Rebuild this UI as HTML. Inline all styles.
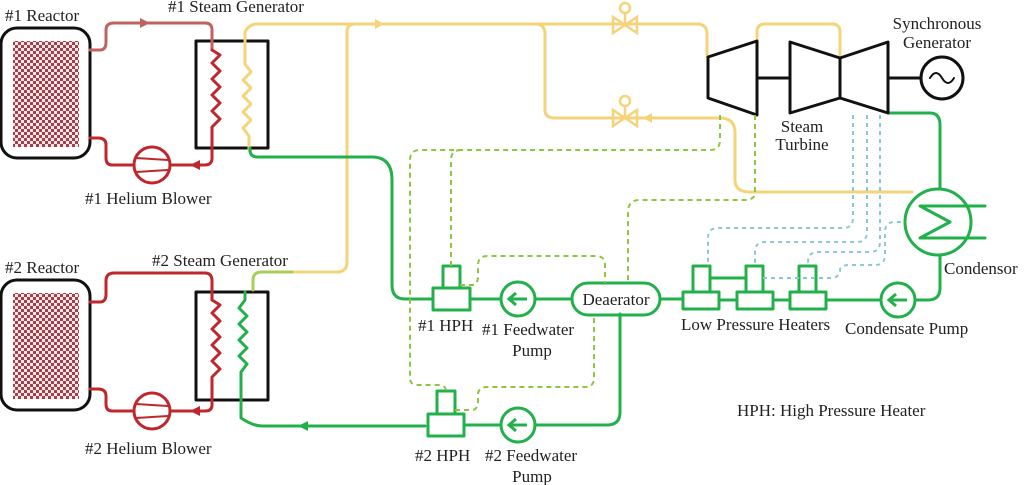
<!DOCTYPE html>
<html><head><meta charset="utf-8"><style>
html,body{margin:0;padding:0;background:#fff;}
svg{display:block;}
text{font-family:"Liberation Serif",serif;font-size:17px;fill:#222;}
</style></head><body>
<svg width="1024" height="485" viewBox="0 0 1024 485" xmlns="http://www.w3.org/2000/svg">
<defs>
<pattern id="chk" width="6" height="6" patternUnits="userSpaceOnUse">
<rect width="6" height="6" fill="#f3e6e6"/><rect width="3" height="3" fill="#a0404a"/><rect x="3" y="3" width="3" height="3" fill="#a0404a"/>
</pattern>
</defs>
<g fill="none" stroke-width="3" stroke-linejoin="round" stroke-linecap="round">
<rect x="1" y="28" width="89" height="130" rx="16" stroke="#111"/>
<rect x="13" y="41" width="66" height="106" fill="url(#chk)" stroke="none"/>
<rect x="1" y="280" width="89" height="130" rx="16" stroke="#111"/>
<rect x="13" y="293" width="66" height="106" fill="url(#chk)" stroke="none"/>
<rect x="196" y="41" width="72" height="107" stroke="#111"/>
<rect x="196" y="292" width="72" height="108" stroke="#111"/>
<path d="M90 50 H100 Q106 50 106 42 V30 Q106 23 114 23 H205 Q212 23 212 30 V50" stroke="#c0635e"/>
<path d="M212 50 l8 5 l-8 8 l8 8 l-8 8 l8 8 l-8 8 l8 8 l-8 8 l8 8 l-8 8 V158 Q212 165 205 165 H170" stroke="#c0272d"/>
<path d="M134 165 H112 Q106 165 106 158 V145 Q106 138 98 138 H90" stroke="#c0272d"/>
<circle cx="152" cy="165" r="18" stroke="#c0272d"/>
<path d="M136 158 L168 160 M136 172 L168 170" stroke="#c0272d" stroke-width="2"/>
<path d="M90 302 H100 Q106 302 106 294 V281 Q106 273 114 273 H205 Q212 273 212 281 V300" stroke="#c0272d"/>
<path d="M212 300 l8 5 l-8 8 l8 8 l-8 8 l8 8 l-8 8 l8 8 l-8 8 l8 8 l-8 8 V405 Q212 411 205 411 H170" stroke="#c0272d"/>
<path d="M134 411 H112 Q106 411 106 404 V396 Q106 389 98 389 H90" stroke="#c0272d"/>
<circle cx="152" cy="411" r="18" stroke="#c0272d"/>
<path d="M136 404 L168 406 M136 418 L168 416" stroke="#c0272d" stroke-width="2"/>
<path d="M249 150 V136 l-6 -8 l8 -8 l-8 -8 l8 -8 l-8 -8 l8 -8 l-8 -8 l8 -8 l-6 -8 V32 Q249 24 257 24 H697 Q707 24 707 34 V56" stroke="#f5d37a"/>
<path d="M347 32 Q347 24 355 24 M347 32 V262 Q347 272 337 272 H292" stroke="#f5d37a"/>
<path d="M292 272 H262 Q253 272 253 280 V290" stroke="#a6cf5a"/>
<path d="M535 24 Q545 24 545 34 V110 Q545 118 555 118 H720 Q735 118 735 133 V180 Q735 192 750 192 H912" stroke="#f5d37a"/>
<path d="M757 41 V32 Q757 24 765 24 H832 Q840 24 840 32 V58" stroke="#f5d37a"/>
<path d="M245 292 V300 l-6 8 l8 8 l-8 8 l8 8 l-8 8 l8 8 l-8 8 l8 8 l-6 8 V418 Q253 426 262 426 H425" stroke="#22b04b"/>
<path d="M250 148 V150 Q250 157 258 157 H372 Q392 157 392 180 V285 Q392 299 405 299 H433" stroke="#22b04b"/>
<path d="M470 299 H501 M535 299 H572 M660 299 H683" stroke="#22b04b"/>
<path d="M620 314 V412 Q620 425 607 425 H535 M501 425 H464" stroke="#22b04b"/>
<rect x="433" y="288" width="37" height="22" stroke="#22b04b"/>
<rect x="443" y="266" width="17" height="22" stroke="#22b04b"/>
<rect x="428" y="414" width="36" height="22" stroke="#22b04b"/>
<rect x="437" y="391" width="18" height="23" stroke="#22b04b"/>
<circle cx="518" cy="299" r="17" stroke="#22b04b"/>
<circle cx="518" cy="425" r="17" stroke="#22b04b"/>
<rect x="572" y="283" width="88" height="32" rx="16" stroke="#22b04b"/>
<rect x="683" y="292" width="36" height="17" stroke="#22b04b"/>
<rect x="693" y="266" width="17" height="26" stroke="#22b04b"/>
<rect x="737" y="292" width="36" height="17" stroke="#22b04b"/>
<rect x="746" y="266" width="17" height="26" stroke="#22b04b"/>
<rect x="790" y="292" width="36" height="17" stroke="#22b04b"/>
<rect x="799" y="266" width="17" height="26" stroke="#22b04b"/>
<path d="M710 278 H746 M719 300 H737 M773 300 H790 M826 300 H881 M915 300 H928 Q940 300 940 288 V256" stroke="#22b04b"/>
<circle cx="898" cy="300" r="17" stroke="#22b04b"/>
<path d="M888 113 H930 Q940 113 940 125 V188" stroke="#22b04b"/>
<circle cx="938" cy="222" r="33" stroke="#22b04b"/>
<path d="M985 206 H920 L950 222 L920 238 H985" stroke="#22b04b"/>
<path d="M708 57 L757 41 V115 L708 98 Z" stroke="#111"/>
<path d="M757 78 H790" stroke="#111"/>
<path d="M790 42 L840 58 V98 L790 113 Z" stroke="#111"/>
<path d="M840 58 L888 42 V113 L840 98" stroke="#111"/>
<path d="M888 78 H921" stroke="#111"/>
<circle cx="942" cy="78" r="21" stroke="#111"/>
<path d="M930 78 Q936 68 942 78 Q948 88 954 78" stroke="#111" stroke-width="2"/>
</g>
<g fill="none" stroke="#8dc63f" stroke-width="2" stroke-dasharray="5,4">
<path d="M720 115 V140 Q720 150 710 150 H420 Q410 150 410 160 V378 Q410 385 418 385 H438 Q446 385 446 391"/>
<path d="M451 266 V160 Q451 150 461 150"/>
<path d="M755 115 V192 Q755 200 745 200 H640 Q628 200 628 212 V283"/>
<path d="M460 285 H472 Q478 285 478 276 V265 Q478 256 488 256 H596 Q605 256 605 265 V283"/>
<path d="M455 410 H472 Q478 410 478 400 V395 Q478 387 488 387 H585 Q594 387 594 378 V314"/>
</g>
<g fill="none" stroke="#8cc8d4" stroke-width="2" stroke-dasharray="4,4">
<path d="M853 115 V218 Q853 228 843 228 H718 Q708 228 708 238 V266"/>
<path d="M867 115 V232 Q867 242 857 242 H765 Q755 242 755 252 V266"/>
<path d="M880 115 V242 Q880 252 870 252 H818 Q808 252 808 262 V266"/>
<path d="M763 278 H830 Q840 278 840 270 Q840 265 850 265 H875 Q885 265 885 255 V232 Q885 222 895 222 H905"/>
</g>
<g fill="#c0635e"><path d="M150 23 l-10 -5 v10 z"/></g>
<g fill="#c0272d"><path d="M190 165 l10 -5 v10 z"/><path d="M190 411 l10 -5 v10 z"/></g>
<g fill="#f5d37a"><path d="M384 24 l-9 -5 v10 z"/><path d="M643 118 l9 -5 v10 z"/></g>
<g fill="#22b04b"><path d="M298 426 l10 -5 v10 z"/></g>
<g fill="none" stroke="#22b04b" stroke-width="3"><path d="M527 299 H510 M516 293 L509 299 L516 305"/><path d="M527 425 H510 M516 419 L509 425 L516 431"/><path d="M907 300 H890 M896 294 L889 300 L896 306"/></g>
<g fill="none" stroke="#f5d37a" stroke-width="2.5">
<path d="M613 17 V33 L637 17 V33 Z"/><path d="M625 25 V14"/><circle cx="625" cy="8" r="5"/>
<path d="M613 110 V126 L637 110 V126 Z"/><path d="M625 118 V107"/><circle cx="625" cy="101" r="5"/>
</g>
<text x="5" y="21">#1 Reactor</text>
<text x="168" y="12">#1 Steam Generator</text>
<text x="85" y="204">#1 Helium Blower</text>
<text x="5" y="273">#2 Reactor</text>
<text x="152" y="266">#2 Steam Generator</text>
<text x="85" y="454">#2 Helium Blower</text>
<text x="937" y="29" text-anchor="middle">Synchronous</text>
<text x="937" y="48" text-anchor="middle">Generator</text>
<text x="802" y="132" text-anchor="middle">Steam</text>
<text x="802" y="150" text-anchor="middle">Turbine</text>
<text x="944" y="274">Condensor</text>
<text x="616" y="305" text-anchor="middle">Deaerator</text>
<text x="418" y="331">#1 HPH</text>
<text x="482" y="335">#1 Feedwater</text>
<text x="532" y="356" text-anchor="middle">Pump</text>
<text x="415" y="461">#2 HPH</text>
<text x="485" y="461">#2 Feedwater</text>
<text x="532" y="482" text-anchor="middle">Pump</text>
<text x="681" y="330">Low Pressure Heaters</text>
<text x="845" y="334">Condensate Pump</text>
<text x="737" y="416">HPH: High Pressure Heater</text>
</svg>
</body></html>
